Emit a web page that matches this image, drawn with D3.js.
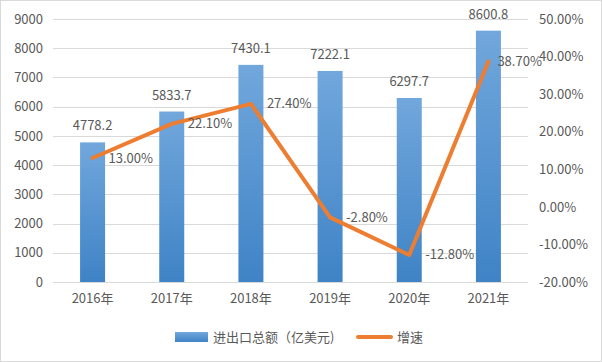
<!DOCTYPE html>
<html>
<head>
<meta charset="utf-8">
<script src="https://cdn.jsdelivr.net/npm/d3@7"></script>
<style>
  body { margin: 0; background: #fff; }
  text { font-family: "Noto Sans CJK SC", "DejaVu Sans", sans-serif; fill: #595959; }
</style>
</head>
<body>
<svg id="chart"></svg>
<script>
// chart data
const years = ['2016年', '2017年', '2018年', '2019年', '2020年', '2021年'];
const totals = [4778.2, 5833.7, 7430.1, 7222.1, 6297.7, 8600.8];
const growth = [13.0, 22.1, 27.4, -2.8, -12.8, 38.7];
const leftTicks = [0, 1000, 2000, 3000, 4000, 5000, 6000, 7000, 8000, 9000];
const rightTicks = [-20, -10, 0, 10, 20, 30, 40, 50];
const legendNames = ['进出口总额（亿美元)', '增速'];

const width = 602, height = 362;
const margin = {top: 19, right: 74, bottom: 80, left: 53};
const innerW = width - margin.left - margin.right;
const innerH = height - margin.top - margin.bottom;

const svg = d3.select('#chart').attr('width', width).attr('height', height);

// outer border
svg.append('rect')
  .attr('x', 0.5).attr('y', 0.5)
  .attr('width', width - 1).attr('height', height - 1)
  .attr('fill', '#fff').attr('stroke', '#d9d9d9');

const defs = svg.append('defs');
const grad = defs.append('linearGradient')
  .attr('id', 'barGrad').attr('x1', 0).attr('y1', 0).attr('x2', 0).attr('y2', 1);
grad.append('stop').attr('offset', '0%').attr('stop-color', '#71a7dc');
grad.append('stop').attr('offset', '100%').attr('stop-color', '#3f83c6');

const g = svg.append('g')
  .attr('transform', 'translate(' + margin.left + ',' + margin.top + ')');

let x = d3.scaleBand().domain(years).range([0, innerW]).paddingInner(0).paddingOuter(0);
let y = d3.scaleLinear().domain([0, 9000]).range([innerH, 0]);
let y2 = d3.scaleLinear().domain([-20, 50]).range([innerH, 0]);

// gridlines
g.append('g')
  .selectAll('line')
  .data(leftTicks)
  .enter()
  .append('line')
  .attr('x1', 0).attr('x2', innerW)
  .attr('y1', d => Math.round(y(d)) + 0.5)
  .attr('y2', d => Math.round(y(d)) + 0.5)
  .attr('stroke', '#d9d9d9');

// left axis
const leftAxis = g.append('g')
  .call(d3.axisLeft(y).tickValues(leftTicks).tickSize(0).tickPadding(10)
    .tickFormat(d3.format('d')));
leftAxis.select('.domain').remove();
leftAxis.selectAll('text').style('font-size', '13px');

// right axis
const rightAxis = g.append('g')
  .attr('transform', 'translate(' + innerW + ',0)')
  .call(d3.axisRight(y2).tickValues(rightTicks).tickSize(0).tickPadding(11)
    .tickFormat(d => d.toFixed(2) + '%'));
rightAxis.select('.domain').remove();
rightAxis.selectAll('text').style('font-size', '13px');

// bottom axis
const bottomAxis = g.append('g')
  .attr('transform', 'translate(0,' + innerH + ')')
  .call(d3.axisBottom(x).tickSize(0).tickPadding(12));
bottomAxis.select('.domain').remove();
bottomAxis.selectAll('text').style('font-size', '13px');

// bars
const barW = 25;
g.append('g')
  .selectAll('rect')
  .data(totals)
  .enter()
  .append('rect')
  .attr('x', (d, i) => x(years[i]) + x.bandwidth() / 2 - barW / 2)
  .attr('y', d => y(d))
  .attr('width', barW)
  .attr('height', d => innerH - y(d))
  .attr('fill', 'url(#barGrad)');

// bar labels
g.append('g')
  .selectAll('text')
  .data(totals)
  .enter()
  .append('text')
  .attr('x', (d, i) => x(years[i]) + x.bandwidth() / 2)
  .attr('y', d => y(d) - 12)
  .attr('text-anchor', 'middle')
  .style('font-size', '13px')
  .text(d => d.toFixed(1));

// growth line
const line = d3.line()
  .x((d, i) => x(years[i]) + x.bandwidth() / 2)
  .y(d => y2(d));

g.append('path')
  .datum(growth)
  .attr('d', line)
  .attr('fill', 'none')
  .attr('stroke', '#ed7d31')
  .attr('stroke-width', 4)
  .attr('stroke-linejoin', 'round')
  .attr('stroke-linecap', 'round');

// line labels
g.append('g')
  .selectAll('text')
  .data(growth)
  .enter()
  .append('text')
  .attr('x', (d, i) => x(years[i]) + x.bandwidth() / 2 + (i === growth.length - 1 ? 9 : 16))
  .attr('y', d => y2(d))
  .attr('dy', '0.35em')
  .style('font-size', '13px')
  .text(d => d.toFixed(2) + '%');

// legend
const legend = svg.append('g').attr('transform', 'translate(0,337)');
legend.append('rect')
  .attr('x', 175).attr('y', -5).attr('width', 33).attr('height', 10)
  .attr('fill', 'url(#barGrad)');
legend.append('text')
  .attr('x', 213).attr('y', 0).attr('dy', '0.35em')
  .style('font-size', '13px')
  .text(legendNames[0]);
legend.append('line')
  .attr('x1', 358).attr('x2', 391).attr('y1', 0).attr('y2', 0)
  .attr('stroke', '#ed7d31').attr('stroke-width', 4).attr('stroke-linecap', 'round');
legend.append('text')
  .attr('x', 397).attr('y', 0).attr('dy', '0.35em')
  .style('font-size', '13px')
  .text(legendNames[1]);
</script>
</body>
</html>
